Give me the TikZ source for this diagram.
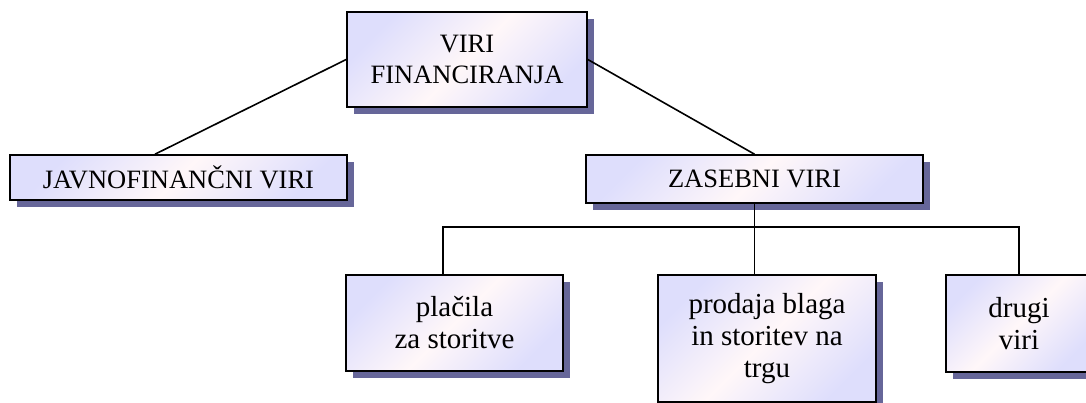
\documentclass[tikz,border=0pt]{standalone}
\usepackage{fontspec}
\setmainfont{Liberation Serif}
\usetikzlibrary{shadows}
\definecolor{boxblue}{HTML}{DEDEFC}
\definecolor{boxpink}{HTML}{FFF7F9}
\definecolor{shadowblue}{HTML}{666699}
\tikzset{
  srcbox/.style={draw=black, line width=1.6pt, align=center, inner sep=0pt,
    top color=boxblue, bottom color=boxblue, middle color=boxpink, shading angle=45,
    drop shadow={shadow xshift=7pt, shadow yshift=-7pt, fill=shadowblue, opacity=1},
    font=\fontsize{26.5}{31}\selectfont},
  lowbox/.style={srcbox, font=\fontsize{29}{32}\selectfont},
  link/.style={line width=1.6pt}
}
\begin{document}
\begin{tikzpicture}[x=1pt, y=-1pt]
            \useasboundingbox (0,0) rectangle (1086,403);
            % Vrh
            \node [srcbox, minimum width=240pt, minimum height=95pt] (viri) at (467, 59.5) {VIRI\\FINANCIRANJA};
            % Druga raven
            \node [srcbox, minimum width=337pt, minimum height=45pt] (javno) at (178.5, 177.5) {JAVNOFINANČNI VIRI};
            \node [srcbox, minimum width=337pt, minimum height=48pt] (zasebni) at (754.5, 179) {ZASEBNI VIRI};
            % Tretja raven
            \node [lowbox, minimum width=217pt, minimum height=96pt] (placila) at (454.5, 323) {plačila\\za storitve};
            \node [lowbox, minimum width=218pt, minimum height=127pt] (prodaja) at (767, 338.5) {prodaja blaga\\in storitev na\\trgu};
            \node [lowbox, minimum width=146pt, minimum height=97pt] (drugi) at (1019, 323.5) {drugi\\viri};
            % Povezave
            \coordinate (bl) at (443, 227);
            \coordinate (br) at (1019, 227);
            \draw [link] (viri.west) -- ([xshift=-23.5pt]javno.north);
            \draw [link] (viri.east) -- (zasebni.north);
            \draw [link] (zasebni.south) -- (zasebni.south |- prodaja.north);
            \draw [link] (placila.north -| bl) -- (bl) -- (br) -- (drugi.north);
\end{tikzpicture}
\end{document}
